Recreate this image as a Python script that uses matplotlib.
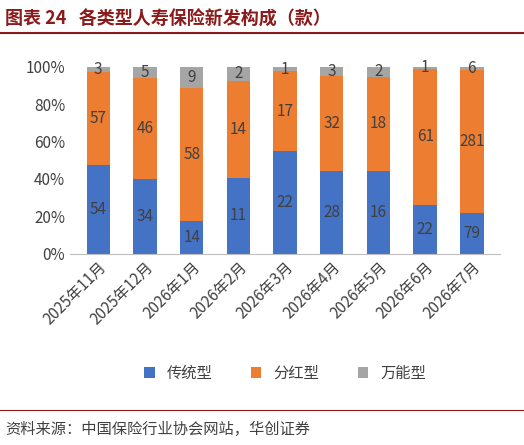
import matplotlib.pyplot as plt
import numpy as np

plt.rcParams['font.family'] = ['Noto Sans CJK SC', 'DejaVu Sans']

months = ['2025年11月', '2025年12月', '2026年1月', '2026年2月', '2026年3月',
          '2026年4月', '2026年5月', '2026年6月', '2026年7月']
traditional = np.array([54, 34, 14, 11, 22, 28, 16, 22, 79])
dividend = np.array([57, 46, 58, 14, 17, 32, 18, 61, 281])
universal = np.array([3, 5, 9, 2, 1, 3, 2, 1, 6])

total = traditional + dividend + universal
series = [(traditional, '传统型', '#4472C4'),
          (dividend, '分红型', '#ED7D31'),
          (universal, '万能型', '#A5A5A5')]

fig = plt.figure(figsize=(5.24, 4.45), dpi=100)
ax = fig.add_axes([0.134, 0.43, 0.82, 0.42])

x = np.arange(len(months))
bottom = np.zeros(len(months))
for vals, name, col in series:
    share = vals / total * 100
    ax.bar(x, share, 0.5, bottom=bottom, color=col, label=name)
    for xi, b, s, v in zip(x, bottom, share, vals):
        ax.text(xi, b + s / 2, str(v), ha='center', va='center',
                fontsize=11, color='#404040')
    bottom += share

ax.set_ylim(0, 100)
ax.set_xlim(-0.6, len(months) - 0.4)
ax.set_yticks(np.arange(0, 101, 20))
ax.set_yticklabels([f'{v}%' for v in range(0, 101, 20)], fontsize=11, color='#404040')
ax.set_xticks(x)
ax.set_xticklabels(months, rotation=45, ha='right', rotation_mode='anchor',
                   fontsize=11, color='#404040')
ax.tick_params(length=0)
for s in ['top', 'right', 'left']:
    ax.spines[s].set_visible(False)
ax.spines['bottom'].set_color('#BFBFBF')

ax.legend(loc='upper center', bbox_to_anchor=(0.5, -0.52), ncol=3, frameon=False,
          fontsize=11, handlelength=0.7, handleheight=0.7, columnspacing=2.5,
          labelcolor='#404040')

fig.text(0.01, 0.958, '图表 24   各类型人寿保险新发构成（款）', fontsize=13,
         fontweight='bold', color='#8B1A1A', va='center')
fig.add_artist(plt.Line2D([0, 1], [0.925, 0.925], color='#8B1A1A', lw=1.5))
fig.add_artist(plt.Line2D([0, 1], [0.078, 0.078], color='#8B1A1A', lw=0.8))
fig.text(0.01, 0.035, '资料来源：中国保险行业协会网站，华创证券', fontsize=11,
         style='italic', color='#404040', va='center')

fig.savefig('out.png', dpi=100)
